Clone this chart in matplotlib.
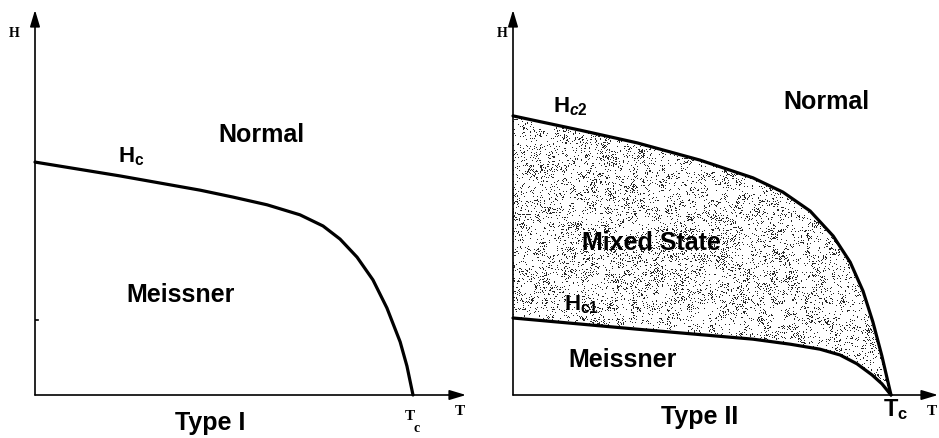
import numpy as np
import matplotlib.pyplot as plt
from matplotlib.patches import Polygon

# critical field curves, T in units of Tc, H in arbitrary units
t_hc = [0.0, 0.225, 0.437, 0.524, 0.614, 0.701, 0.762, 0.807, 0.852, 0.894, 0.931, 0.966, 0.984, 1.0]
hc = [0.605, 0.569, 0.532, 0.514, 0.494, 0.468, 0.439, 0.405, 0.358, 0.299, 0.226, 0.138, 0.075, 0.0]

t_hc2 = [0.0, 0.177, 0.328, 0.495, 0.635, 0.714, 0.786, 0.847, 0.892, 0.926, 0.952, 0.976, 1.0]
hc2 = [0.725, 0.688, 0.655, 0.610, 0.564, 0.527, 0.478, 0.413, 0.345, 0.270, 0.190, 0.101, 0.0]

t_hc1 = [0.0, 0.328, 0.635, 0.733, 0.812, 0.865, 0.910, 0.950, 0.976, 1.0]
hc1 = [0.200, 0.171, 0.145, 0.132, 0.119, 0.104, 0.081, 0.052, 0.029, 0.0]

W, H = 939, 438
fig = plt.figure(figsize=(W / 100, H / 100), dpi=100)

SANS = "Liberation Sans"
SERIF = "Liberation Serif"
plt.rcParams["mathtext.fontset"] = "custom"
plt.rcParams["mathtext.bf"] = "Liberation Sans:bold"
plt.rcParams["mathtext.it"] = "Liberation Sans:italic:bold"
plt.rcParams["mathtext.rm"] = "Liberation Sans:bold"


def make_axes(x0, x1, y0, y1, tc_px):
    # place axes by pixel box, origin at (x0, y0); T=1 at tc_px
    ax = fig.add_axes([x0 / W, (H - y0) / H, (x1 - x0) / W, (y0 - y1) / H])
    ax.set_xlim(0, (x1 - x0) / (tc_px - x0))
    ax.set_ylim(0, 1)
    ax.axis("off")
    arrow = dict(arrowstyle="-|>,head_length=1.0,head_width=0.3", lw=1.2, color="black",
                 shrinkA=0, shrinkB=0)
    ax.annotate("", xy=(0, 1), xytext=(0, 0), xycoords="axes fraction",
                arrowprops=arrow, annotation_clip=False)
    ax.annotate("", xy=(1, 0), xytext=(0, 0), xycoords="axes fraction",
                arrowprops=arrow, annotation_clip=False)
    return ax


def axes_text(ax, x, y, s, size, family=SERIF):
    ax.text(x, y, s, fontsize=size, fontweight="bold", family=family,
            ha="center", va="center", transform=ax.transAxes, clip_on=False)


# ---- Type I ----
ax1 = make_axes(35, 466, 395, 10, 413)
ax1.plot(t_hc, hc, color="black", lw=2.3, solid_capstyle="round",
         solid_joinstyle="round", clip_on=False)
ax1.plot([0, 0.008], [0.195, 0.195], color="black", lw=1.2)
axes_text(ax1, -0.049, 0.938, "H", 10)
axes_text(ax1, 0.986, -0.044, "T", 11)
axes_text(ax1, 0.870, -0.057, "T", 11)
axes_text(ax1, 0.886, -0.088, "c", 10)
ax1.text(0.255, 0.62, r"$\mathbf{H_c}$", fontsize=16, ha="center", va="center")
ax1.text(0.6, 0.675, "Normal", fontsize=18, fontweight="bold", family=SANS,
         ha="center", va="center")
ax1.text(0.385, 0.26, "Meissner", fontsize=18, fontweight="bold", family=SANS,
         ha="center", va="center")
ax1.text(0.463, -0.072, "Type I", fontsize=18, fontweight="bold", family=SANS,
         ha="center", va="center")

# ---- Type II ----
ax2 = make_axes(513, 938, 395, 10, 891)

# stipple texture for the mixed state, clipped to the region between Hc1 and Hc2
rng = np.random.default_rng(3)
ny, nx = 290, 380
cell = 7
blobs = rng.random((ny // cell + 2, nx // cell + 2))
blobs = np.kron(blobs, np.ones((cell, cell)))[:ny, :nx]
prob = 0.04 + 0.24 * blobs ** 2
dots = rng.random((ny, nx)) < prob
img = np.zeros((ny, nx, 4))
img[..., 3] = dots * 0.85
region = np.column_stack([np.r_[t_hc2, t_hc1[::-1]], np.r_[hc2, hc1[::-1]]])
poly = Polygon(region, closed=True, facecolor="none", edgecolor="none")
ax2.add_patch(poly)
im = ax2.imshow(img, extent=(0, 1, 0, 0.75), origin="lower", aspect="auto",
                interpolation="nearest")
im.set_clip_path(poly)

ax2.plot(t_hc2, hc2, color="black", lw=2.3, solid_capstyle="round",
         solid_joinstyle="round", clip_on=False)
ax2.plot(t_hc1, hc1, color="black", lw=2.3, solid_capstyle="round",
         solid_joinstyle="round", clip_on=False)
ax2.plot([-0.006, -0.006], [0.365, 0.48], color="black", lw=2.0)
axes_text(ax2, -0.026, 0.938, "H", 10)
axes_text(ax2, 0.985, -0.044, "T", 11)
ax2.text(1.012, -0.038, r"$\mathbf{T_c}$", fontsize=17, ha="center", va="center")
ax2.text(0.152, 0.75, r"$\mathbf{H}_{\mathit{c2}}$", fontsize=16, ha="center", va="center")
ax2.text(0.182, 0.235, r"$\mathbf{H_{c1}}$", fontsize=16, ha="center", va="center")
ax2.text(0.83, 0.76, "Normal", fontsize=18, fontweight="bold", family=SANS,
         ha="center", va="center")
ax2.text(0.367, 0.395, "Mixed State", fontsize=18, fontweight="bold", family=SANS,
         ha="center", va="center")
ax2.text(0.29, 0.092, "Meissner", fontsize=18, fontweight="bold", family=SANS,
         ha="center", va="center")
ax2.text(0.495, -0.058, "Type II", fontsize=18, fontweight="bold", family=SANS,
         ha="center", va="center")

fig.savefig("out.png", dpi=100, facecolor="white")
